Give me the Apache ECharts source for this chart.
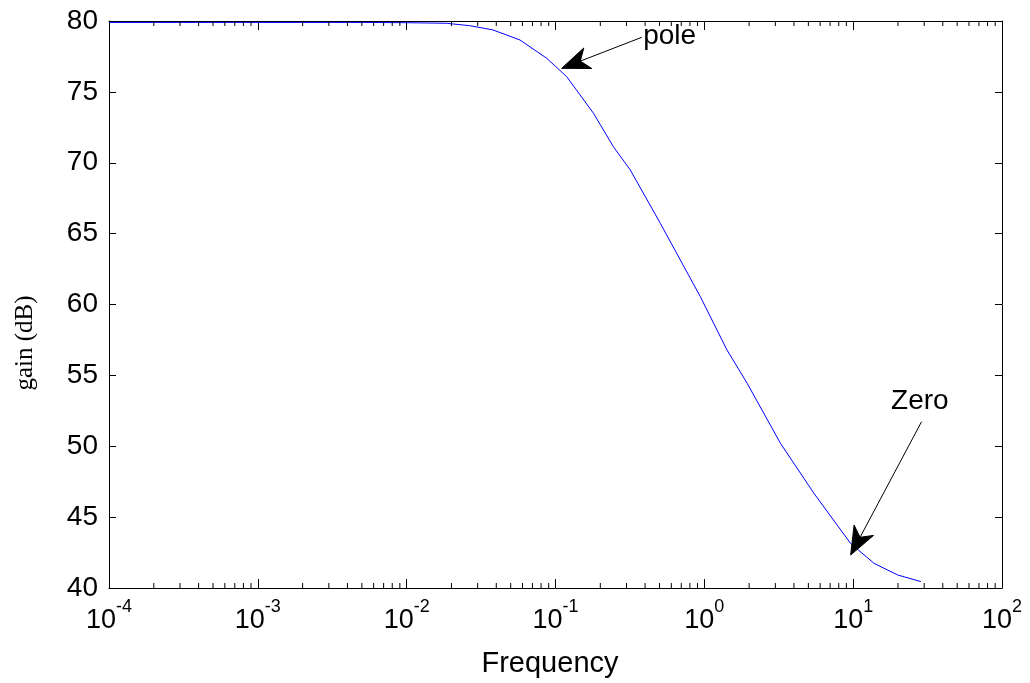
<!DOCTYPE html>
<html>
<head>
<meta charset="utf-8">
<script src="https://cdn.jsdelivr.net/npm/echarts@6/dist/echarts.min.js"></script>
<style>
html,body{margin:0;padding:0;background:#fff;}
#chart{width:1030px;height:683px;}
</style>
</head>
<body>
<div id="chart"></div>
<script>
// Frequency samples and gain in dB
const freq = [0.0001, 0.001, 0.005, 0.01, 0.0185, 0.0265, 0.038, 0.0577, 0.0873, 0.119, 0.18, 0.245, 0.318, 0.506, 0.94, 1.42, 1.94, 3.25, 5.45, 9.6, 13.8, 19.9, 28.5];
const gain = [79.9, 79.9, 79.9, 79.88, 79.84, 79.67, 79.37, 78.66, 77.37, 76.07, 73.49, 71.13, 69.49, 65.73, 60.55, 56.79, 54.44, 50.2, 46.68, 43.15, 41.74, 40.92, 40.45];

// Axis settings
const xMin = 1e-4, xMax = 1e2;
const yMin = 40, yMax = 80, yStep = 5;
const decadeExps = [-4, -3, -2, -1, 0, 1];
const minorMult = [2, 3, 4, 5, 6, 7, 8, 9];

// Annotations
const annoText = ['pole', 'Zero'];
const annoTip = [[0.110, 76.66], [9.62, 42.33]];
const annoTail = [[0.380, 78.85], [28.8, 51.73]];
const annoLabelAt = [[0.388, 78.9], [28.05, 53.19]];
const annoAlign = ['left', 'center'];

const lineData = freq.map((f, i) => [f, gain[i]]);
const minorTicks = [];
decadeExps.forEach(e => minorMult.forEach(m => minorTicks.push([m * Math.pow(10, e), yMin])));

const chart = echarts.init(document.getElementById('chart'), null, {renderer: 'canvas'});
const sans = 'Liberation Sans, Arial, sans-serif';

function xLabel(v) {
  const e = Math.round(Math.log10(v));
  return '{b|10}{s|' + e + '}';
}

const xCommon = {
  type: 'log', logBase: 10, min: xMin, max: xMax, splitNumber: 6,
  axisLine: {show: true, onZero: false, lineStyle: {color: '#000', width: 1}},
  axisTick: {show: true, inside: true, length: 9, lineStyle: {color: '#000'}},
  splitLine: {show: false}, minorTick: {show: false}
};
const yCommon = {
  type: 'value', min: yMin, max: yMax, interval: yStep,
  axisLine: {show: true, onZero: false, lineStyle: {color: '#000', width: 1}},
  axisTick: {show: true, inside: true, length: 7, lineStyle: {color: '#000'}},
  splitLine: {show: false}
};

const option = {
  backgroundColor: '#fff',
  animation: false,
  grid: {left: 109, right: 28, top: 21, bottom: 95, containLabel: false},
  xAxis: [
    Object.assign({}, xCommon, {
      position: 'bottom',
      name: 'Frequency', nameLocation: 'middle', nameGap: 61,
      nameTextStyle: {fontFamily: sans, fontSize: 29, color: '#000', padding: [0, 11, 0, 0]},
      axisLabel: {
        show: true, margin: 10, formatter: xLabel,
        rich: {
          b: {fontFamily: sans, fontSize: 27, color: '#000'},
          s: {fontFamily: sans, fontSize: 18, color: '#000', padding: [0, 0, 28, 0]}
        }
      }
    }),
    Object.assign({}, xCommon, {position: 'top', axisLabel: {show: false}})
  ],
  yAxis: [
    Object.assign({}, yCommon, {
      position: 'left',
      axisLabel: {show: true, margin: 11, fontFamily: sans, fontSize: 28, color: '#000'}
    }),
    Object.assign({}, yCommon, {position: 'right', axisLabel: {show: false}})
  ],
  graphic: [{
    type: 'text', x: 25, y: 343, rotation: Math.PI / 2,
    style: {text: 'gain (dB)', fontFamily: 'Liberation Serif, Times New Roman, serif', fontSize: 25, fill: '#000', align: 'center', verticalAlign: 'middle'}
  }],
  series: [
    {
      type: 'line', xAxisIndex: 0, yAxisIndex: 0, data: lineData,
      showSymbol: false, symbol: 'none', smooth: false,
      lineStyle: {color: '#0000ff', width: 1}, z: 3
    },
    {
      type: 'custom', xAxisIndex: 0, yAxisIndex: 0, data: minorTicks, silent: true, z: 4,
      renderItem: function (params, api) {
        const v = api.value(0);
        const b = api.coord([v, yMin]);
        const t = api.coord([v, yMax]);
        return {
          type: 'group', children: [
            {type: 'line', shape: {x1: b[0], y1: b[1], x2: b[0], y2: b[1] - 5}, style: {stroke: '#000', lineWidth: 1}},
            {type: 'line', shape: {x1: t[0], y1: t[1], x2: t[0], y2: t[1] + 5}, style: {stroke: '#000', lineWidth: 1}}
          ]
        };
      }
    },
    {
      type: 'custom', xAxisIndex: 0, yAxisIndex: 0, data: annoTip, silent: true, z: 5, clip: false,
      renderItem: function (params, api) {
        const i = params.dataIndex;
        const tip = api.coord(annoTip[i]);
        const tail = api.coord(annoTail[i]);
        const lab = api.coord(annoLabelAt[i]);
        const dx = tail[0] - tip[0], dy = tail[1] - tip[1];
        const len = Math.sqrt(dx * dx + dy * dy);
        const ux = dx / len, uy = dy / len;
        const nx = -uy, ny = ux;
        const L = 28, W = 11, N = 20;
        const p1 = [tip[0] + ux * L + nx * W, tip[1] + uy * L + ny * W];
        const p2 = [tip[0] + ux * L - nx * W, tip[1] + uy * L - ny * W];
        const pn = [tip[0] + ux * N, tip[1] + uy * N];
        return {
          type: 'group', children: [
            {type: 'line', shape: {x1: tail[0], y1: tail[1], x2: pn[0], y2: pn[1]}, style: {stroke: '#000', lineWidth: 1}},
            {type: 'polygon', shape: {points: [tip, p1, pn, p2]}, style: {fill: '#000', stroke: '#000', lineWidth: 1}},
            {type: 'text', x: lab[0], y: lab[1], style: {text: annoText[i], fontFamily: sans, fontSize: 28, fill: '#000', align: annoAlign[i], verticalAlign: 'middle'}}
          ]
        };
      }
    }
  ]
};
chart.setOption(option);
</script>
</body>
</html>
